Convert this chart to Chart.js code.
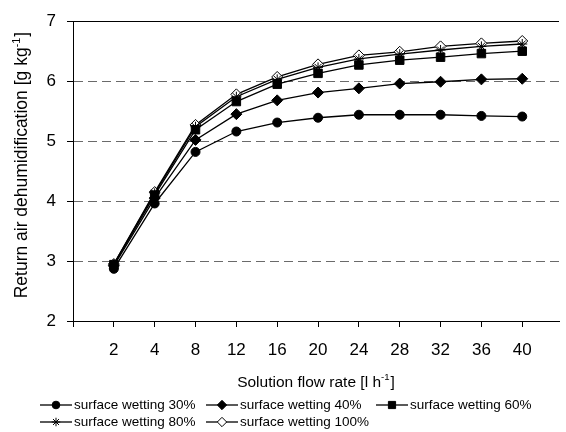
<!DOCTYPE html>
<html><head><meta charset="utf-8">
<script src="https://cdn.jsdelivr.net/npm/chart.js@4"></script>
<style>html,body{margin:0;padding:0;background:#fff}canvas{display:block}</style>
</head><body>
<canvas id="c" width="566" height="432"></canvas>
<script>
// ---- data ----
const flowRates = ['2', '4', '8', '12', '16', '20', '24', '28', '32', '36', '40'];
const wetting30 = [2.87, 3.96, 4.82, 5.16, 5.31, 5.39, 5.44, 5.44, 5.44, 5.42, 5.41];
const wetting40 = [2.92, 4.05, 5.02, 5.45, 5.68, 5.81, 5.88, 5.96, 5.99, 6.03, 6.04];
const wetting60 = [2.94, 4.10, 5.19, 5.66, 5.95, 6.13, 6.27, 6.35, 6.40, 6.46, 6.50];
const wetting80 = [2.95, 4.13, 5.24, 5.74, 6.03, 6.23, 6.37, 6.45, 6.52, 6.58, 6.62];
const wetting100 = [2.95, 4.15, 5.27, 5.78, 6.07, 6.28, 6.43, 6.49, 6.58, 6.63, 6.67];
const seriesLabels = ['surface wetting 30%', 'surface wetting 40%', 'surface wetting 60%', 'surface wetting 80%', 'surface wetting 100%'];
const yTickValues = [2, 3, 4, 5, 6, 7];
const xTitleParts = ['Solution flow rate [l h', '-1', ']'];
const yTitleParts = ['Return air dehumidification [g kg', '-1', ']'];

const FONT = '"Liberation Sans", Arial, sans-serif';
const allSeries = [wetting30, wetting40, wetting60, wetting80, wetting100];
const styles = [
  {pointStyle: 'circle', r: 4.5, fill: '#000'},
  {pointStyle: 'rectRot', r: 5.5, fill: '#000'},
  {pointStyle: 'rect', r: 6, fill: '#000'},
  {pointStyle: 'star', r: 5, fill: '#000'},
  {pointStyle: 'rectRot', r: 5.5, fill: '#fff'}
];

const datasets = allSeries.map((vals, i) => ({
  label: seriesLabels[i],
  data: vals.map((v, k) => ({x: k, y: v})),
  borderColor: '#000',
  borderWidth: 1.3,
  pointStyle: styles[i].pointStyle,
  pointRadius: styles[i].r,
  pointHoverRadius: styles[i].r,
  pointBackgroundColor: styles[i].fill,
  pointBorderColor: '#000',
  pointBorderWidth: 1,
  tension: 0,
  fill: false
}));

function drawSupText(ctx, parts, size) {
  ctx.font = size + 'px ' + FONT;
  const w0 = ctx.measureText(parts[0]).width;
  const w2 = ctx.measureText(parts[2]).width;
  ctx.font = (size * 0.62) + 'px ' + FONT;
  const w1 = ctx.measureText(parts[1]).width;
  const total = w0 + w1 + w2 + 1;
  let x = -total / 2;
  ctx.font = size + 'px ' + FONT;
  ctx.fillText(parts[0], x, 0); x += w0;
  ctx.font = (size * 0.62) + 'px ' + FONT;
  ctx.fillText(parts[1], x, -size * 0.42); x += w1 + 1;
  ctx.font = size + 'px ' + FONT;
  ctx.fillText(parts[2], x, 0);
}

const decor = {
  id: 'decor',
  afterDraw(chart) {
    const ctx = chart.ctx;
    const ca = chart.chartArea;
    ctx.save();
    ctx.fillStyle = '#000';
    ctx.textBaseline = 'alphabetic';
    ctx.textAlign = 'left';
    // x title
    ctx.save();
    ctx.translate(316, 387);
    drawSupText(ctx, xTitleParts, 15.5);
    ctx.restore();
    // y title
    ctx.save();
    ctx.translate(27, (ca.top + ca.bottom) / 2 - 6);
    ctx.rotate(-Math.PI / 2);
    drawSupText(ctx, yTitleParts, 17.5);
    ctx.restore();
    // legend
    const cols = [40, 206, 376];
    const rows = [405, 422];
    const lineLen = 32;
    chart.data.datasets.forEach((ds, i) => {
      const x = cols[i % 3];
      const y = rows[Math.floor(i / 3)];
      ctx.strokeStyle = '#000';
      ctx.lineWidth = 1.3;
      ctx.beginPath();
      ctx.moveTo(x, y);
      ctx.lineTo(x + lineLen, y);
      ctx.stroke();
      ctx.fillStyle = ds.pointBackgroundColor;
      ctx.strokeStyle = '#000';
      ctx.lineWidth = 1;
      Chart.helpers.drawPoint(ctx, {pointStyle: ds.pointStyle, radius: ds.pointRadius * 0.85, borderWidth: 1, rotation: 0}, x + lineLen / 2, y);
      ctx.fillStyle = '#000';
      ctx.font = '13.5px ' + FONT;
      ctx.textBaseline = 'middle';
      ctx.fillText(ds.label, x + lineLen + 2, y);
    });
    ctx.restore();
  }
};

new Chart(document.getElementById('c'), {
  type: 'line',
  data: {datasets},
  options: {
    responsive: false,
    devicePixelRatio: 1,
    animation: false,
    layout: {padding: {top: 21, right: 0, bottom: 0, left: 0}},
    plugins: {legend: {display: false}, tooltip: {enabled: false}},
    scales: {
      x: {
        type: 'linear',
        min: -1,
        max: 10.9,
        afterBuildTicks: s => { s.ticks = [-1].concat(flowRates.map((_, k) => k)).map(v => ({value: v})); },
        afterFit: s => { s.height = 111; },
        ticks: {
          callback: v => (flowRates[v] !== undefined ? flowRates[v] : ''),
          color: '#000',
          font: {family: FONT, size: 17},
          padding: 13,
          maxRotation: 0,
          autoSkip: false
        },
        grid: {drawOnChartArea: false, drawTicks: true, tickLength: 6, tickColor: '#000', tickWidth: 1},
        border: {color: '#000', width: 1}
      },
      y: {
        min: 2,
        max: 7,
        afterBuildTicks: s => { s.ticks = yTickValues.map(v => ({value: v})); },
        afterFit: s => { s.width = 73; },
        ticks: {
          color: '#000',
          font: {family: FONT, size: 17},
          padding: 11
        },
        grid: {
          color: c => (c.tick && c.tick.value === 7 ? '#000' : (c.tick && c.tick.value === 2 ? 'rgba(0,0,0,0)' : '#6a6a6a')),
          lineWidth: 1,
          tickLength: 6,
          tickColor: '#000',
          tickWidth: 1
        },
        border: {
          color: '#000',
          width: 1,
          dash: c => (c.tick && c.tick.value > 2 && c.tick.value < 7 ? [9, 5] : [])
        }
      }
    }
  },
  plugins: [decor]
});
</script>
</body></html>
